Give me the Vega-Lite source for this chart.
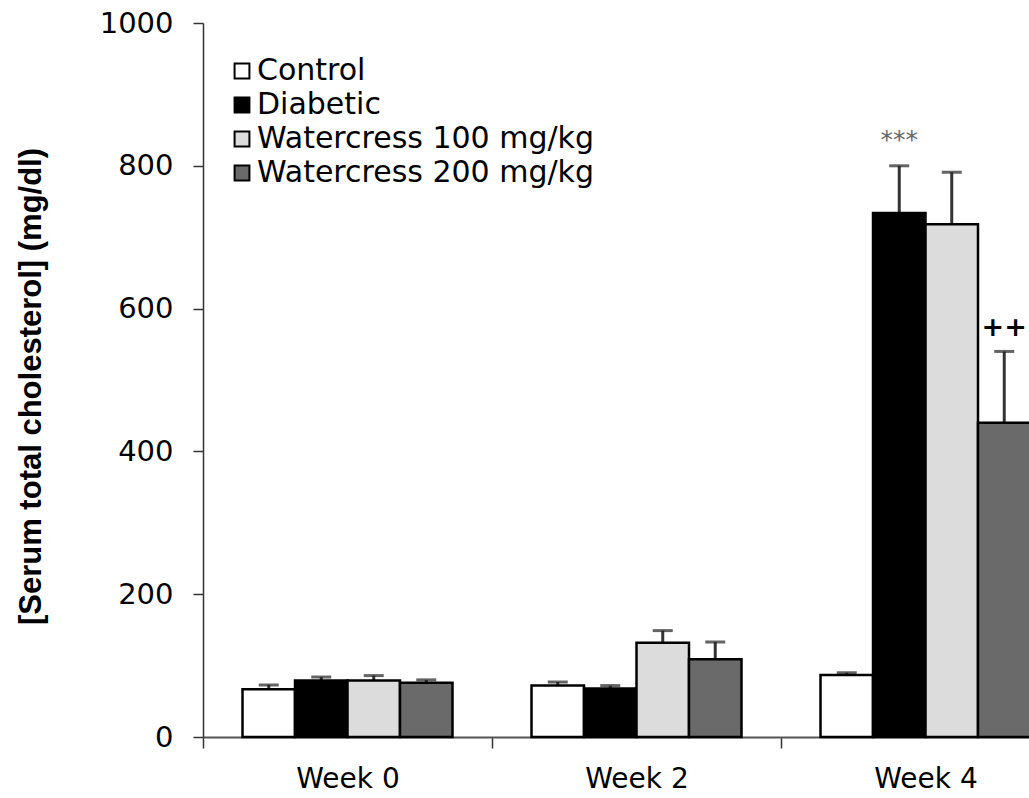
{
  "$schema": "https://vega.github.io/schema/vega-lite/v6.json",
  "width": 867,
  "height": 714,
  "autosize": {"type": "none"},
  "padding": {"left": 203, "top": 23, "right": 0, "bottom": 61},
  "background": "white",
  "config": {"view": {"stroke": null}, "font": "DejaVu Sans"},
  "data": {
    "values": [
      {"week": "Week 0", "group": "Control", "mean": 67, "upper": 73},
      {"week": "Week 0", "group": "Diabetic", "mean": 79, "upper": 84},
      {"week": "Week 0", "group": "Watercress 100 mg/kg", "mean": 79, "upper": 86},
      {"week": "Week 0", "group": "Watercress 200 mg/kg", "mean": 76, "upper": 80},
      {"week": "Week 2", "group": "Control", "mean": 72, "upper": 77},
      {"week": "Week 2", "group": "Diabetic", "mean": 68, "upper": 72},
      {"week": "Week 2", "group": "Watercress 100 mg/kg", "mean": 132, "upper": 149},
      {"week": "Week 2", "group": "Watercress 200 mg/kg", "mean": 109, "upper": 133},
      {"week": "Week 4", "group": "Control", "mean": 87, "upper": 90},
      {"week": "Week 4", "group": "Diabetic", "mean": 734, "upper": 800, "sig": "***"},
      {"week": "Week 4", "group": "Watercress 100 mg/kg", "mean": 718, "upper": 791},
      {"week": "Week 4", "group": "Watercress 200 mg/kg", "mean": 440, "upper": 540, "sig": "++"}
    ]
  },
  "encoding": {
    "x": {
      "field": "week",
      "type": "nominal",
      "sort": ["Week 0", "Week 2", "Week 4"],
      "scale": {"paddingInner": 0, "paddingOuter": 0},
      "title": null,
      "axis": {
        "labelAngle": 0,
        "labelFont": "DejaVu Sans",
        "labelFontSize": 28,
        "labelColor": "black",
        "labelPadding": 17,
        "tickBand": "extent",
        "tickSize": 11,
        "tickColor": "#333",
        "tickWidth": 1.5,
        "domainColor": "#555",
        "domainWidth": 2
      }
    },
    "xOffset": {
      "field": "group",
      "type": "nominal",
      "sort": ["Control", "Diabetic", "Watercress 100 mg/kg", "Watercress 200 mg/kg"],
      "scale": {"paddingInner": 0, "paddingOuter": 0.7526}
    }
  },
  "layer": [
    {
      "mark": {"type": "rule", "color": "#333", "strokeWidth": 3},
      "encoding": {
        "y": {
          "field": "mean",
          "type": "quantitative",
          "scale": {"domain": [0, 1000]},
          "title": "[Serum total cholesterol] (mg/dl)",
          "axis": {
            "values": [0, 200, 400, 600, 800, 1000],
            "format": "d",
            "grid": false,
            "labelFont": "DejaVu Sans",
            "labelFontSize": 29,
            "labelColor": "black",
            "labelPadding": 20,
            "tickSize": 10,
            "tickColor": "#333",
            "tickWidth": 1.5,
            "domainColor": "#333",
            "domainWidth": 1.5,
            "titleFont": "Liberation Sans",
            "titleFontWeight": "bold",
            "titleFontSize": 31,
            "titleColor": "black",
            "titleAngle": 270,
            "titleX": -172,
            "titleY": 363,
            "titleAlign": "center",
            "titleBaseline": "middle"
          }
        },
        "y2": {"field": "upper"}
      }
    },
    {
      "mark": {"type": "tick", "color": "#222", "thickness": 3, "size": 20},
      "encoding": {
        "y": {"field": "upper", "type": "quantitative", "title": "[Serum total cholesterol] (mg/dl)"}
      }
    },
    {
      "mark": {"type": "bar", "stroke": "black", "strokeWidth": 2.5},
      "encoding": {
        "y": {"field": "mean", "type": "quantitative", "title": "[Serum total cholesterol] (mg/dl)"},
        "fill": {
          "field": "group",
          "type": "nominal",
          "sort": ["Control", "Diabetic", "Watercress 100 mg/kg", "Watercress 200 mg/kg"],
          "scale": {
            "domain": ["Control", "Diabetic", "Watercress 100 mg/kg", "Watercress 200 mg/kg"],
            "range": ["#ffffff", "#000000", "#dcdcdc", "#6a6a6a"]
          },
          "legend": {
            "title": null,
            "orient": "none",
            "legendX": 24,
            "legendY": 33,
            "padding": 0,
            "symbolType": "square",
            "symbolSize": 220,
            "symbolStrokeColor": "black",
            "symbolStrokeWidth": 2,
            "symbolOpacity": 1,
            "labelFont": "DejaVu Sans",
            "labelFontSize": 30,
            "labelColor": "black",
            "labelOffset": 0,
            "labelLimit": 500,
            "rowPadding": 4
          }
        }
      }
    },
    {
      "transform": [{"filter": "datum.sig === '***'"}],
      "mark": {"type": "text", "font": "DejaVu Sans", "fontSize": 25, "color": "#666", "baseline": "alphabetic", "dy": -18},
      "encoding": {
        "y": {"field": "upper", "type": "quantitative", "title": "[Serum total cholesterol] (mg/dl)"},
        "text": {"field": "sig"}
      }
    },
    {
      "transform": [{"filter": "datum.sig === '++'"}],
      "mark": {"type": "text", "font": "DejaVu Sans", "fontSize": 27, "fontWeight": "bold", "color": "black", "baseline": "alphabetic", "dy": -15},
      "encoding": {
        "y": {"field": "upper", "type": "quantitative", "title": "[Serum total cholesterol] (mg/dl)"},
        "text": {"field": "sig"}
      }
    }
  ]
}
